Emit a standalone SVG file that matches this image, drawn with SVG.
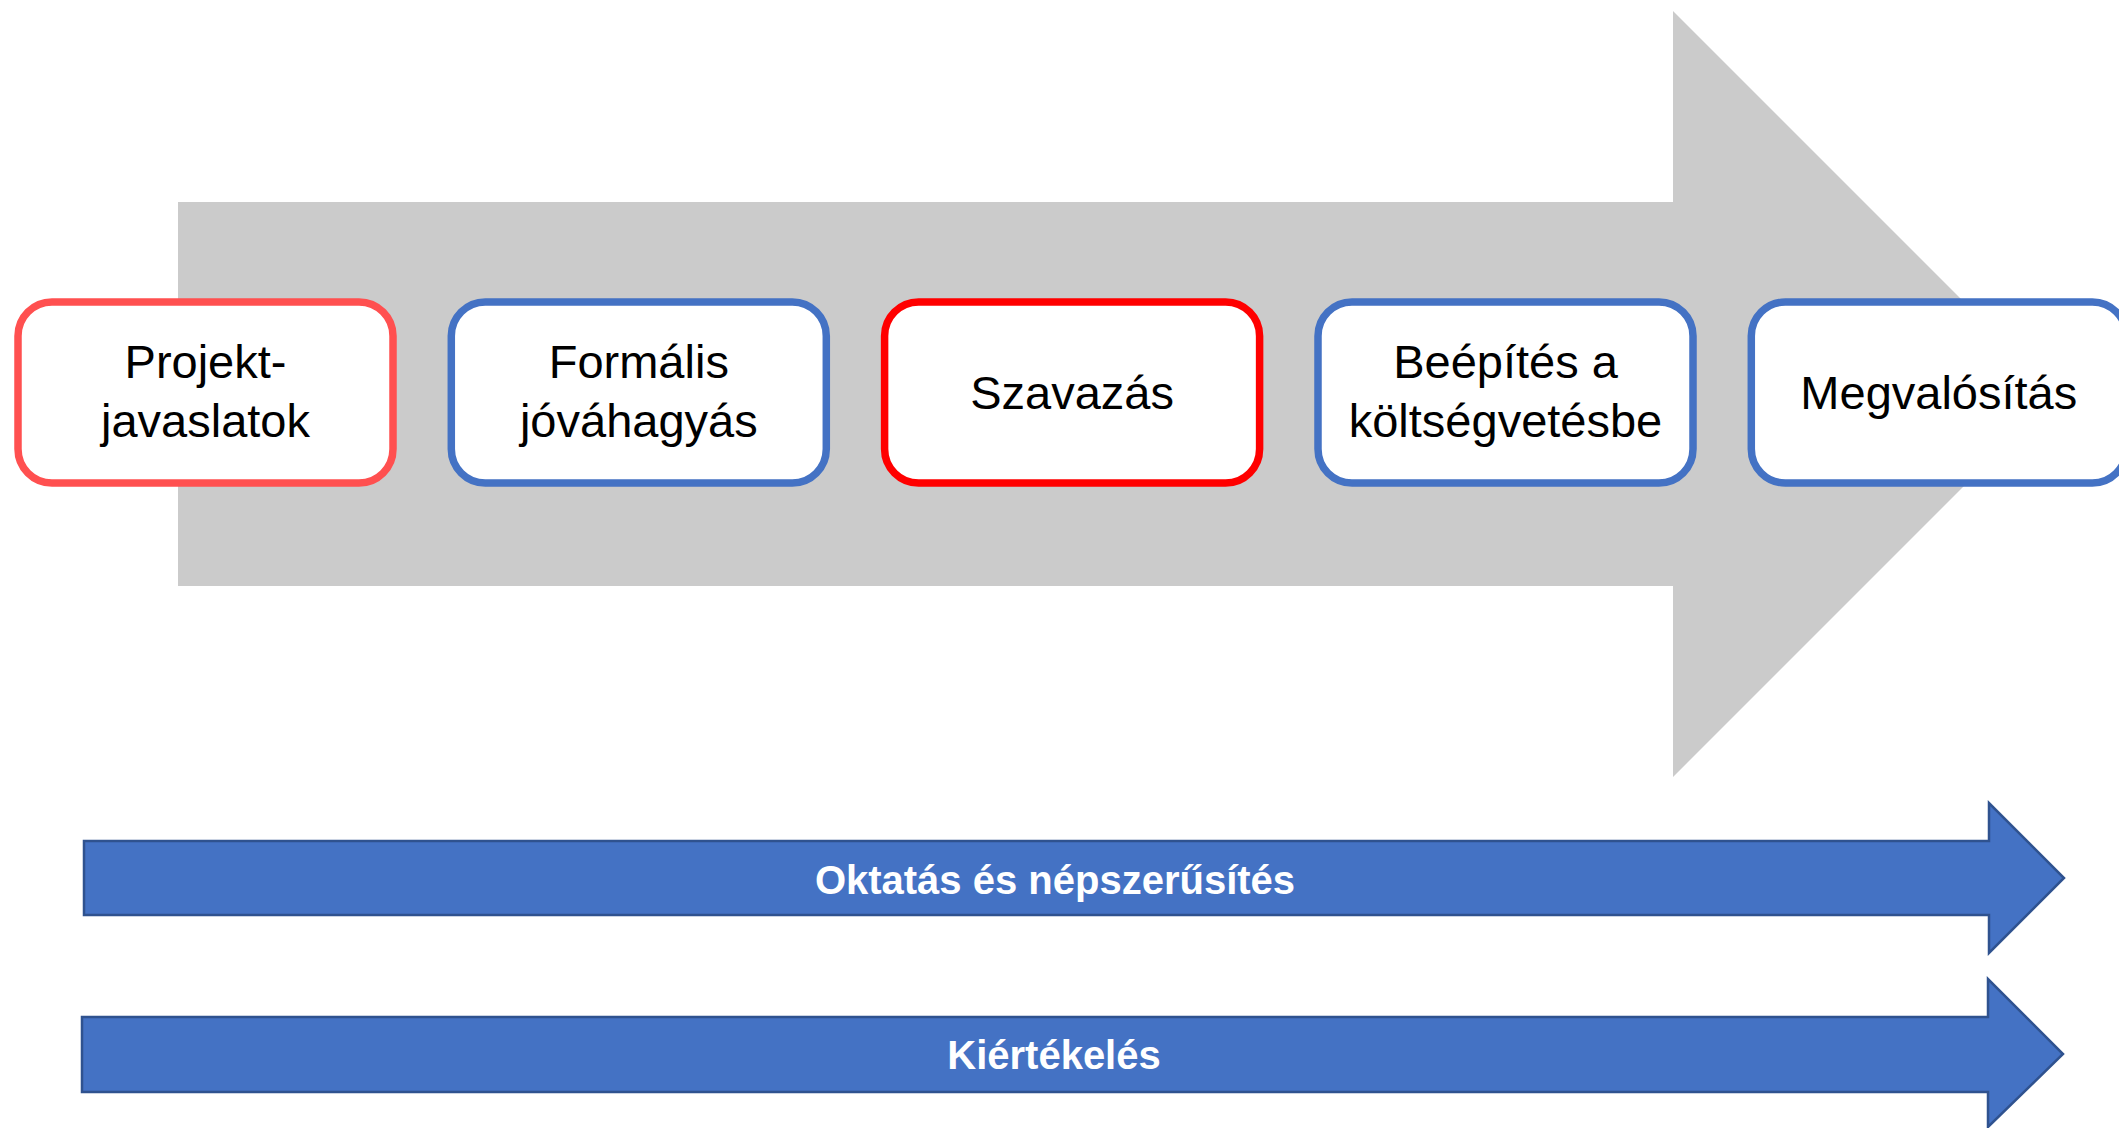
<svg xmlns="http://www.w3.org/2000/svg" width="2119" height="1128" viewBox="0 0 2119 1128">
<style>
.box{fill:#FFFFFF;stroke-width:7.5}
.blue{stroke:#4472C4}
.lt{fill:#000000;font-family:"Liberation Sans",Arial,sans-serif;font-size:47px;text-anchor:middle}
.band{fill:#4472C4;stroke:#2F528F;stroke-width:2.5}
.bt{fill:#FFFFFF;font-family:"Liberation Sans",Arial,sans-serif;font-size:40px;font-weight:bold;text-anchor:middle}
</style>
<rect width="2119" height="1128" fill="#FFFFFF"/>
<g id="connectors">
<polygon id="main-arrow" points="178,202 1673,202 1673,11 2056,394 1673,777 1673,586 178,586" fill="#CBCBCB"/>
<g id="arrow-oktatas">
<polygon class="band" points="84,841 1989,841 1989,803 2064,878 1989,953 1989,915 84,915"/>
<text class="bt" x="1055" y="894">Oktatás és népszerűsítés</text>
</g>
<g id="arrow-kiertekeles">
<polygon class="band" points="82,1017 1988,1017 1988,979 2063,1054 1988,1127 1988,1092 82,1092"/>
<text class="bt" x="1054" y="1069">Kiértékelés</text>
</g>
</g>
<g id="node1">
<rect class="box" x="18" y="302" width="375" height="181" rx="34" stroke="#FF5050"/>
<text class="lt" x="205.5" y="378">Projekt-</text>
<text class="lt" x="205.5" y="437">javaslatok</text>
</g>
<g id="node2">
<rect class="box blue" x="451.3" y="302" width="375" height="181" rx="34"/>
<text class="lt" x="638.8" y="378">Formális</text>
<text class="lt" x="638.8" y="437">jóváhagyás</text>
</g>
<g id="node3">
<rect class="box" x="884.6" y="302" width="375" height="181" rx="34" stroke="#FF0000"/>
<text class="lt" x="1072.1" y="409">Szavazás</text>
</g>
<g id="node4">
<rect class="box blue" x="1318" y="302" width="375" height="181" rx="34"/>
<text class="lt" x="1505.5" y="378">Beépítés a</text>
<text class="lt" x="1505.5" y="437">költségvetésbe</text>
</g>
<g id="node5">
<rect class="box blue" x="1751.3" y="302" width="375" height="181" rx="34"/>
<text class="lt" x="1938.8" y="409">Megvalósítás</text>
</g>
</svg>
